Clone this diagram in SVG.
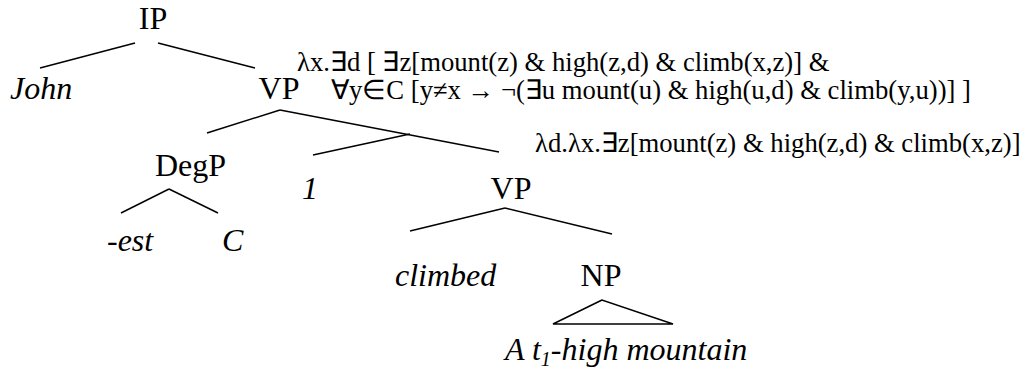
<svg xmlns="http://www.w3.org/2000/svg" width="1029" height="370" viewBox="0 0 1029 370">
  <style>
    text { font-family: "Liberation Serif", "Times New Roman", serif; fill: #000; }
    .lbl { font-size: 32px; }
    .it { font-style: italic; }
    .mid { text-anchor: middle; }
    .fm { font-size: 26.67px; }
    .edge { stroke: #000; stroke-width: 1.5; fill: none; }
  </style>
  <rect width="1029" height="370" fill="#fff"/>

  <!-- branches -->
  <g id="connectors">
    <line class="edge" x1="135" y1="43" x2="40" y2="68"/>
    <line class="edge" x1="158" y1="43" x2="255" y2="68"/>
    <line class="edge" x1="280" y1="110" x2="207" y2="133"/>
    <line class="edge" x1="280" y1="110" x2="499" y2="152"/>
    <line class="edge" x1="169" y1="189" x2="121" y2="213"/>
    <line class="edge" x1="169" y1="189" x2="218" y2="213"/>
    <line class="edge" x1="410" y1="134" x2="313" y2="155"/>
    <line class="edge" x1="505" y1="208" x2="410" y2="231"/>
    <line class="edge" x1="505" y1="208" x2="612" y2="234"/>
    <polygon class="edge" points="602,300 553,324 673,324"/>
  </g>

  <g id="ip"><text class="lbl mid" x="153" y="29">IP</text></g>
  <g id="john"><text class="lbl it" x="10" y="99">John</text></g>
  <g id="vp1"><text class="lbl mid" x="279" y="99">VP</text></g>
  <g id="vp1-meaning">
    <text class="fm" x="297" y="71">λx.∃d [ ∃z[mount(z) &amp; high(z,d) &amp; climb(x,z)] &amp;</text>
    <text class="fm" x="331" y="99">∀y∈C [y≠x → ¬(∃u mount(u) &amp; high(u,d) &amp; climb(y,u))] ]</text>
  </g>
  <g id="degp"><text class="lbl" x="155" y="176">DegP</text></g>
  <g id="est"><text class="lbl it" x="107" y="251">-est</text></g>
  <g id="c"><text class="lbl it" x="222" y="251">C</text></g>
  <g id="index"><text class="lbl it" x="302" y="199">1</text></g>
  <g id="vp2"><text class="lbl mid" x="511" y="199">VP</text></g>
  <g id="vp2-meaning">
    <text class="fm" x="535" y="152">λd.λx.∃z[mount(z) &amp; high(z,d) &amp; climb(x,z)]</text>
  </g>
  <g id="climbed"><text class="lbl it" x="395" y="286">climbed</text></g>
  <g id="np"><text class="lbl mid" x="601" y="286">NP</text></g>
  <g id="mountain"><text class="lbl it" x="505" y="360">A t<tspan font-size="20" dy="6">1</tspan><tspan dy="-6">-high mountain</tspan></text></g>
</svg>
